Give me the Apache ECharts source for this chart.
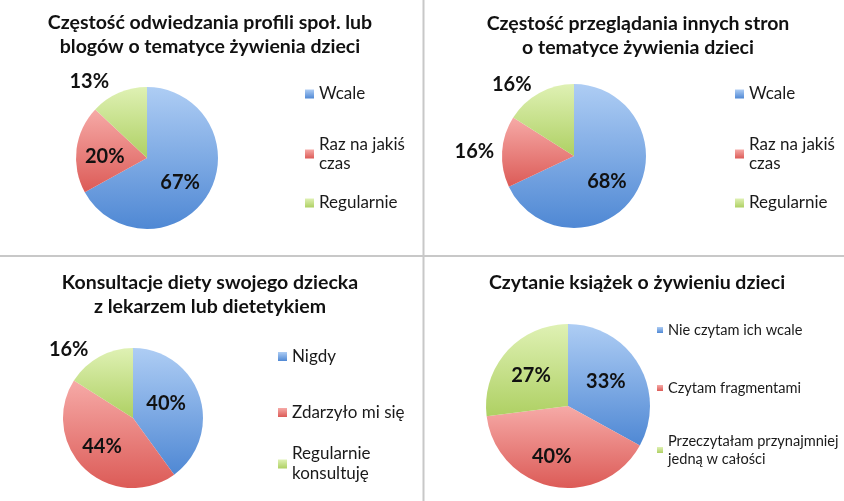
<!DOCTYPE html>
<html>
<head>
<meta charset="utf-8">
<script src="https://cdn.jsdelivr.net/npm/echarts@6/dist/echarts.min.js"></script>
<style>html,body{margin:0;padding:0;background:#fff}#c{width:844px;height:501px}</style>
</head>
<body>
<div id="c"></div>
<script>
const titles = [
  'Częstość odwiedzania profili społ. lub\nblogów o tematyce żywienia dzieci',
  'Częstość przeglądania innych stron\no tematyce żywienia dzieci',
  'Konsultacje diety swojego dziecka\nz lekarzem lub dietetykiem',
  'Czytanie książek o żywieniu dzieci'
];
const cats1 = ['Wcale', 'Raz na jakiś czas', 'Regularnie'];
const values1 = [67, 20, 13];
const cats2 = ['Wcale', 'Raz na jakiś czas', 'Regularnie'];
const values2 = [68, 16, 16];
const cats3 = ['Nigdy', 'Zdarzyło mi się', 'Regularnie konsultuję'];
const values3 = [40, 44, 16];
const cats4 = ['Nie czytam ich wcale', 'Czytam fragmentami', 'Przeczytałam przynajmniej jedną w całości'];
const values4 = [33, 40, 27];

const wrapMap = {
  'Raz na jakiś czas': 'Raz na jakiś\nczas',
  'Regularnie konsultuję': 'Regularnie\nkonsultuję',
  'Przeczytałam przynajmniej jedną w całości': 'Przeczytałam przynajmniej\njedną w całości'
};

const FONT = 'Lato, "Open Sans", sans-serif';
const grads = [
  ['#aecdf4', '#4f88d4'],
  ['#f6aaa7', '#dc5b57'],
  ['#dff1b4', '#aed063']
];
function grad(i) {
  return new echarts.graphic.LinearGradient(0, 0, 0, 1, [
    { offset: 0, color: grads[i][0] },
    { offset: 1, color: grads[i][1] }
  ]);
}

const charts = [
  { cats: cats1, vals: values1, center: [147, 158], r: 71, pos: ['inside', 'inside', 'outside'],
    ll: [12, 12, 12], off: [[0, 5], [-4, 3], [0, 0]],
    tx: 210, ty: 11, lx: 305, iw: 9, ltops: [84.5, 125.5, 193.5], fs: 17, lh: 19 },
  { cats: cats2, vals: values2, center: [574, 156], r: 72, pos: ['inside', 'outside', 'outside'],
    ll: [12, 3, 12], off: [[0, 5], [0, 0], [3, 2]],
    tx: 638, ty: 12, lx: 735, iw: 9, ltops: [84.5, 125.5, 193.5], fs: 17, lh: 19 },
  { cats: cats3, vals: values3, center: [133, 418], r: 70, pos: ['inside', 'inside', 'outside'],
    ll: [12, 12, 12], off: [[-3, -3], [-5, 1], [0, 3]],
    tx: 210, ty: 271, lx: 278, iw: 9, ltops: [346.5, 402.5, 434], fs: 17, lh: 20 },
  { cats: cats4, vals: values4, center: [568, 406], r: 82, pos: ['inside', 'inside', 'inside'],
    ll: [12, 12, 12], off: [[0, -2], [-8, 7], [-4, -1]],
    tx: 637, ty: 271, lx: 657, iw: 6, ltops: [321, 379, 423], fs: 14.6, lh: 18 }
];

const title = [], legend = [], series = [];
charts.forEach((c, k) => {
  title.push({
    text: titles[k], left: c.tx, top: c.ty, textAlign: 'center', padding: 0,
    textStyle: { fontFamily: FONT, fontWeight: 'bold', fontSize: 19.5, lineHeight: 24, color: '#111' }
  });
  c.cats.forEach((name, i) => {
    const label = wrapMap[name] || name;
    const multi = label.indexOf('\n') >= 0;
    legend.push({
      left: c.lx, top: c.ltops[i], orient: 'vertical', padding: 0,
      itemWidth: c.iw, itemHeight: c.iw, itemGap: 0, selectedMode: false, icon: 'rect',
      formatter: n => wrapMap[n] || n,
      data: [{ name: name }],
      textStyle: { fontFamily: FONT, fontSize: c.fs, lineHeight: c.lh, color: '#1a1a1a',
        padding: multi ? [c.lh, 0, 0, 0] : 0 }
    });
  });
  series.push({
    type: 'pie', center: c.center, radius: c.r, startAngle: 90, clockwise: true,
    avoidLabelOverlap: false,
    labelLine: { show: false, length: 12, length2: 0 },
    data: c.cats.map((name, i) => ({
      name: name, value: c.vals[i],
      itemStyle: { color: grad(i) },
      label: { position: c.pos[i], offset: c.off[i] },
      labelLine: { length: c.ll[i] }
    })),
    label: {
      formatter: '{c}%', color: '#111', fontFamily: FONT, fontWeight: 'bold', fontSize: 20
    },
    emphasis: { disabled: true }
  });
});

const chart = echarts.init(document.getElementById('c'), null, { renderer: 'canvas' });
chart.setOption({
  backgroundColor: '#fff',
  animation: false,
  title: title,
  legend: legend,
  series: series,
  graphic: [
    { type: 'line', shape: { x1: 423.5, y1: 0, x2: 423.5, y2: 501 }, style: { stroke: '#c8c8c8', lineWidth: 2 } },
    { type: 'line', shape: { x1: 0, y1: 256, x2: 844, y2: 256 }, style: { stroke: '#c8c8c8', lineWidth: 2 } }
  ]
});
</script>
</body>
</html>
